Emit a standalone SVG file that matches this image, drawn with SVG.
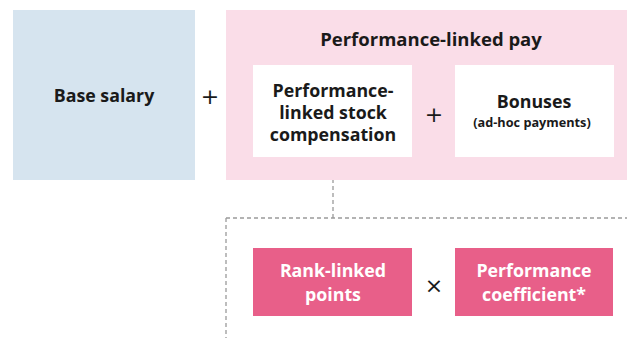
<svg xmlns="http://www.w3.org/2000/svg" width="627" height="338" viewBox="0 0 627 338">
<style>
text{font-family:"Open Sans","Noto Sans","Liberation Sans",sans-serif;font-weight:700;text-anchor:middle;fill:#1a1a1a}
.w{fill:#ffffff}
.big{font-size:17.8px}
.title{font-size:18.5px}
.small{font-size:12.7px}
.op{font-family:"DejaVu Sans",sans-serif;font-weight:400;font-size:22px;fill:#1a1a1a}
.dash{fill:none;stroke:#9a9a9a;stroke-width:1.3;stroke-dasharray:4 3}
</style>
<rect width="627" height="338" fill="#ffffff"/>
<g id="connectors">
<path class="dash" d="M333 158 V218 M226 218 H627 M226 218 V338"/>
</g>
<g id="base-salary">
<rect x="13" y="10" width="182" height="170" fill="#d6e4ef"/>
<text class="big" x="104" y="102">Base salary</text>
</g>
<text class="op" x="210" y="104">+</text>
<g id="performance-linked-pay">
<rect x="226" y="10" width="401" height="170" fill="#fadde8"/>
<text class="title" x="431" y="46">Performance-linked pay</text>
</g>
<g id="stock-compensation">
<rect x="253" y="65" width="159" height="92" fill="#ffffff"/>
<text class="big" x="333" y="97">Performance-</text>
<text class="big" x="333" y="119">linked stock</text>
<text class="big" x="333" y="141">compensation</text>
</g>
<text class="op" x="434" y="122">+</text>
<g id="bonuses">
<rect x="455" y="65" width="159" height="92" fill="#ffffff"/>
<text class="big" x="534" y="108">Bonuses</text>
<text class="small" x="532" y="127">(ad-hoc payments)</text>
</g>
<g id="rank-linked-points">
<rect x="253" y="248" width="159" height="68" fill="#e85f89"/>
<text class="big w" x="333" y="277">Rank-linked</text>
<text class="big w" x="333" y="301">points</text>
</g>
<text class="op" x="434" y="293">×</text>
<g id="performance-coefficient">
<rect x="455" y="248" width="158" height="68" fill="#e85f89"/>
<text class="big w" x="534" y="277">Performance</text>
<text class="big w" x="534" y="301">coefficient*</text>
</g>
</svg>
